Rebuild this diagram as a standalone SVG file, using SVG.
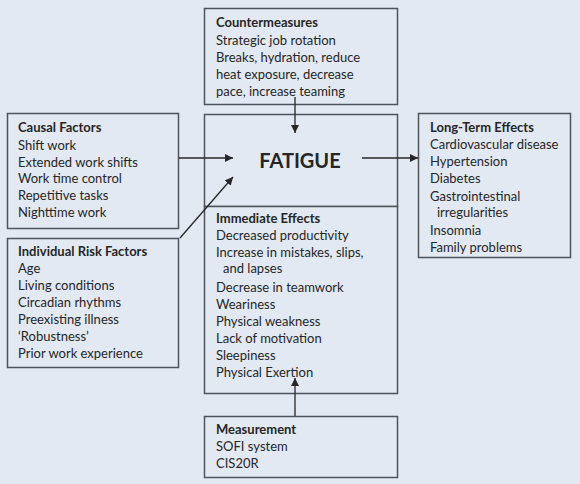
<svg xmlns="http://www.w3.org/2000/svg" width="580" height="484" viewBox="0 0 580 484">
<defs>
<style>
.box{fill:#e2e9f3;stroke:#50545a;stroke-width:1.5}
text{font-family:Lato,"Liberation Sans",sans-serif;font-size:13px;fill:#262626}
.h{font-weight:bold}
.big{font-weight:bold;font-size:20px}
.ln{stroke:#262626;stroke-width:1.3;fill:none}
</style>
<marker id="ah" viewBox="0 0 10 10" refX="10" refY="5" markerWidth="8" markerHeight="8" markerUnits="userSpaceOnUse" orient="auto">
<path d="M0,0 L10,5 L0,10 z" fill="#262626"/>
</marker>
</defs>
<rect width="580" height="484" fill="#e2e9f3"/>
<g id="countermeasures">
<rect class="box" x="204.5" y="8.5" width="193" height="96"/>
<text x="216" y="27" class="h">Countermeasures</text>
<text x="216" y="45">Strategic job rotation</text>
<text x="216" y="62">Breaks, hydration, reduce</text>
<text x="216" y="79">heat exposure, decrease</text>
<text x="216" y="96">pace, increase teaming</text>
</g>
<g id="fatigue">
<rect class="box" x="204.5" y="114.5" width="193" height="92"/>
<text x="300" y="168" class="big" text-anchor="middle">FATIGUE</text>
</g>
<g id="immediate">
<rect class="box" x="204.5" y="206.5" width="193" height="187"/>
<text x="216" y="223" class="h">Immediate Effects</text>
<text x="216" y="240">Decreased productivity</text>
<text x="216" y="257">Increase in mistakes, slips,</text>
<text x="223" y="273">and lapses</text>
<text x="216" y="292">Decrease in teamwork</text>
<text x="216" y="309">Weariness</text>
<text x="216" y="326">Physical weakness</text>
<text x="216" y="343">Lack of motivation</text>
<text x="216" y="360">Sleepiness</text>
<text x="216" y="377">Physical Exertion</text>
</g>
<g id="causal">
<rect class="box" x="7.5" y="113.5" width="171" height="115"/>
<text x="18" y="132" class="h">Causal Factors</text>
<text x="18" y="150">Shift work</text>
<text x="18" y="167">Extended work shifts</text>
<text x="18" y="183">Work time control</text>
<text x="18" y="200">Repetitive tasks</text>
<text x="18" y="217">Nighttime work</text>
</g>
<g id="individual">
<rect class="box" x="7.5" y="238.5" width="171" height="129"/>
<text x="18" y="256" class="h">Individual Risk Factors</text>
<text x="18" y="273">Age</text>
<text x="18" y="290">Living conditions</text>
<text x="18" y="307">Circadian rhythms</text>
<text x="18" y="324">Preexisting illness</text>
<text x="18" y="341">‘Robustness’</text>
<text x="18" y="358">Prior work experience</text>
</g>
<g id="longterm">
<rect class="box" x="418.5" y="113.5" width="152" height="144"/>
<text x="430" y="132" class="h">Long-Term Effects</text>
<text x="430" y="149">Cardiovascular disease</text>
<text x="430" y="166">Hypertension</text>
<text x="430" y="183">Diabetes</text>
<text x="430" y="201">Gastrointestinal</text>
<text x="437" y="217">irregularities</text>
<text x="430" y="235">Insomnia</text>
<text x="430" y="252">Family problems</text>
</g>
<g id="measurement">
<rect class="box" x="204.5" y="416.5" width="193" height="61"/>
<text x="216" y="434" class="h">Measurement</text>
<text x="216" y="451">SOFI system</text>
<text x="216" y="468">CIS20R</text>
</g>
<g id="connectors">
<line class="ln" x1="295" y1="97" x2="295" y2="133" marker-end="url(#ah)"/>
<line class="ln" x1="179" y1="158" x2="233" y2="158" marker-end="url(#ah)"/>
<line class="ln" x1="180" y1="238" x2="233" y2="177" marker-end="url(#ah)"/>
<line class="ln" x1="362" y1="158" x2="418" y2="158" marker-end="url(#ah)"/>
<line class="ln" x1="295" y1="416" x2="295" y2="378" marker-end="url(#ah)"/>
</g>
</svg>
